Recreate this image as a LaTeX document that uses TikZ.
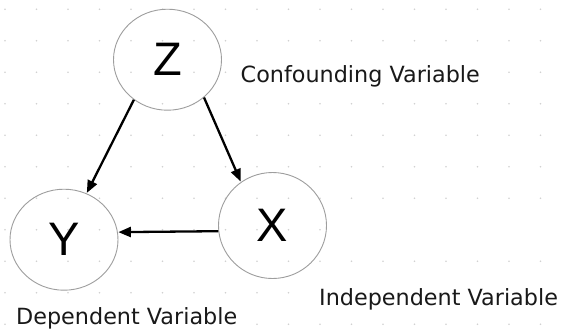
\documentclass[tikz,border=0pt]{standalone}
\usepackage{fontspec}
\setmainfont{DejaVu Sans}
\newfontfamily\letterfont{Liberation Sans}
\usetikzlibrary{arrows.meta,shapes.geometric}

\tikzset{
  gridpt/.style={fill=black!18, draw=none},
  varnode/.style={ellipse, draw=black!38, line width=0.9pt, inner sep=0pt,
    minimum width=108pt, font=\letterfont\fontsize{47}{47}\selectfont},
  label/.style={anchor=base west, fill=white, inner sep=0pt,
    font=\fontsize{22.3}{24}\selectfont, text=black!90},
  link/.style={line width=2.3pt, -{Triangle[length=12.5pt,width=10pt]}, shorten >=0.5pt}
}

\begin{document}
\begin{tikzpicture}[x=1pt, y=-1pt]
  % canvas
  \fill[white] (0,0) rectangle (567,330);
  \useasboundingbox (0,0) rectangle (567,330);

  % dotted background grid
  \foreach \i in {0,...,17}
    \foreach \j in {0,...,10}
      \fill[gridpt] ({5+31.5*\i},{9.3+31.5*\j}) circle (0.85pt);
  \fill[white] (330,216) rectangle (567,244);

  % variables
  \node[varnode, minimum height=101pt] (Z) at (167.5,59.7) {Z};
  \node[varnode, minimum height=101pt] (Y) at (64,239.7) {Y};
  \node[varnode, minimum height=106pt] (X) at (272.5,225.5) {X};

  % causal links
  \draw[link] (Z.-130) -- (Y.64);
  \draw[link] (Z.-46) -- (X.126);
  \draw[link] (X.-174) -- (Y.8.6);

  % captions
  \node[label] (cz) at (240.5,82.3) {Confounding Variable};
  \node[label] (cx) at (319,305) {Independent Variable};
  \node[label] (cy) at (16,324.6) {Dependent Variable};
\end{tikzpicture}
\end{document}
